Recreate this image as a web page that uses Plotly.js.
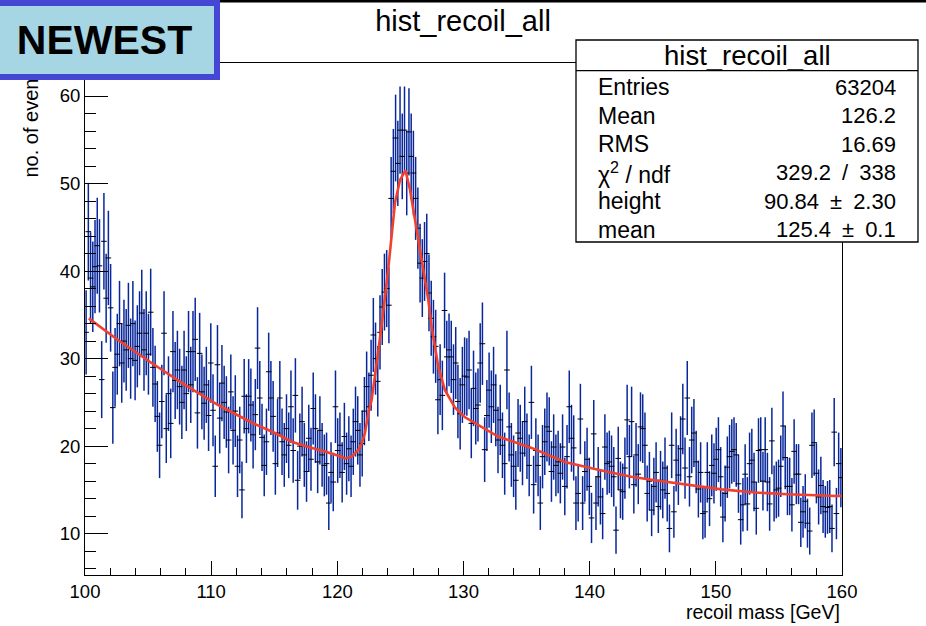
<!DOCTYPE html>
<html>
<head>
<meta charset="utf-8">
<script src="https://cdn.plot.ly/plotly-3.0.1.min.js"></script>
<style>
html,body{margin:0;padding:0;background:#fff;}
#chart{width:926px;height:626px;}
</style>
</head>
<body>
<div id="chart"></div>
<script>
// ---- histogram definition ----
const nBins = 340;
const massLow = 100;
const massHigh = 160;

// bin contents, 100 -> 115 GeV
const counts100to115 = [
 33.0, 44.5, 39.2, 38.2, 40.5, 42.9, 40.6, 27.6, 43.4, 36.9,
 41.5, 35.8, 24.4, 29.0, 30.5, 34.0, 29.5, 32.0, 31.0, 33.8,
 30.0, 34.0, 29.8, 31.4, 32.9, 35.2, 31.0, 32.9, 30.5, 35.3,
 29.0, 27.1, 23.4, 20.1, 25.1, 32.9, 22.0, 26.0, 22.6, 30.8,
 27.5, 28.7, 26.8, 25.0, 28.7, 26.0, 30.8, 27.0, 30.8, 32.2,
 23.8, 30.6, 26.2, 24.9, 27.0, 23.5, 29.5, 24.1, 17.7, 29.3,
 23.2, 27.2, 25.0, 23.9, 20.7, 26.2, 21.8, 24.0, 17.7, 20.7,
 15.0, 25.7, 22.0, 25.7, 24.7, 21.3, 23.6, 31.2, 25.5, 21.0,
 17.8, 20.5, 28.5, 25.5, 23.4
];
// 115 -> 130 GeV (peak region)
const counts115to130 = [
 18.0, 21.5, 25.5, 20.5, 19.0, 22.0, 20.1, 24.5, 19.5, 25.8,
 16.1, 20.0, 22.8, 19.0, 17.1, 20.9, 18.5, 24.3, 22.0, 18.2,
 21.8, 19.0, 17.8, 18.0, 13.5, 17.0, 15.9, 24.5, 19.5, 20.1,
 17.0, 21.1, 18.0, 19.7, 17.7, 20.5, 22.8, 21.8, 19.0, 20.3,
 24.0, 26.8, 24.5, 28.1, 32.7, 30.0, 27.4, 33.0, 35.9, 37.6,
 38.0, 36.1, 48.3, 51.4, 55.2, 52.3, 56.1, 53.1, 56.1, 51.2,
 55.9, 53.1, 51.2, 48.3, 44.9, 40.9, 39.2, 41.1, 42.0, 37.5,
 34.6, 32.5, 31.4, 25.3, 27.6, 25.8, 35.5, 30.2, 31.0, 30.2,
 27.6, 29.5, 25.1, 23.7, 27.0, 28.0
];
// 130 -> 145 GeV
const counts130to145 = [
 27.9, 28.7, 22.6, 26.6, 24.3, 24.7, 29.5, 31.7, 19.6, 23.5,
 26.4, 24.5, 27.0, 24.1, 20.7, 23.0, 20.1, 18.0, 28.7, 22.2,
 19.0, 17.7, 16.1, 21.5, 20.9, 19.2, 22.8, 20.0, 17.8, 25.0,
 15.6, 19.5, 17.8, 13.5, 18.8, 20.5, 22.2, 21.7, 17.1, 19.9,
 17.8, 18.2, 16.9, 19.9, 15.4, 18.8, 24.5, 20.9, 19.8, 13.5,
 14.6, 23.1, 13.5, 17.1, 18.5, 15.4, 11.8, 21.4, 13.5, 16.5,
 14.2, 12.3, 19.9, 18.0, 18.2, 17.7, 16.5, 10.4, 18.6, 15.0,
 14.8, 17.5, 23.0, 18.8, 22.8, 15.6, 19.0, 16.8, 22.2, 22.0,
 20.1, 14.6, 16.0, 12.7, 15.4, 17.0
];
// 145 -> 160 GeV
const counts145to160 = [
 13.1, 16.1, 15.0, 17.5, 14.6, 10.6, 20.1, 12.5, 18.4, 16.7,
 19.7, 23.1, 17.5, 25.5, 16.5, 20.7, 21.5, 18.2, 15.1, 17.0,
 12.3, 12.5, 17.0, 14.0, 17.8, 16.9, 18.5, 19.6, 16.5, 11.9,
 14.6, 17.6, 18.8, 19.4, 19.6, 19.0, 15.7, 11.6, 13.3, 16.8,
 13.4, 18.0, 18.4, 15.9, 12.9, 19.5, 19.6, 16.0, 19.6, 15.9,
 13.4, 20.6, 14.6, 15.0, 15.2, 17.7, 22.3, 18.7, 15.4, 15.4,
 13.3, 19.4, 16.8, 16.8, 11.3, 12.5, 13.7, 11.2, 10.3, 20.1,
 20.4, 16.9, 14.2, 15.5, 13.1, 12.5, 13.0, 13.1, 10.6, 21.6,
 12.3, 18.0, 16.4
];

// fit curve
const fitMass = [100.3, 102.64, 105.28, 107.92, 110.56, 113.2, 115.06, 116.38, 117.7, 119.02,
 120.34, 120.6, 121.14, 121.66, 121.93, 122.19, 122.45, 122.72, 122.98, 123.25,
 123.51, 124.04, 124.3, 124.57, 124.97, 125.4, 125.76, 126.02, 126.42, 126.81,
 127.21, 127.48, 128.0, 128.53, 129.33, 130.12, 132.75, 135.4, 138.03, 140.67,
 143.3, 145.17, 147.8, 150.45, 153.1, 155.7, 159.55, 160.0];
const fitValue = [34.6, 32.1, 29.5, 27.0, 24.7, 22.7, 21.5, 20.5, 19.9, 19.4,
 18.8, 18.6, 18.8, 19.56, 20.3, 21.5, 23.7, 25.3, 28.0, 30.8,
 33.8, 40.3, 44.2, 47.8, 50.4, 51.5, 49.3, 47.0, 43.9, 40.5,
 36.7, 33.6, 29.1, 26.4, 24.4, 23.3, 21.1, 19.8, 18.2, 17.3,
 16.5, 16.1, 15.6, 15.06, 14.7, 14.5, 14.3, 14.3];

// stats box text
const statsTitle = 'hist_recoil_all';
const statNames = ['Entries', 'Mean', 'RMS', '\u03c7<sup>2</sup> / ndf', 'height', 'mean'];
const statValues = ['63204', '126.2', '16.69', '329.2\u2002/\u2002338', '90.84\u2002\u00b1\u20022.30', '125.4\u2002\u00b1\u20020.1'];

// ---- build ----
const counts = counts100to115.concat(counts115to130, counts130to145, counts145to160);
const binW = (massHigh - massLow) / nBins;
const centers = counts.map((_, i) => massLow + (i + 0.5) * binW);
// weighted-histogram errors (signal events carry smaller weights)
function binError(x, y) {
  if (x > 122 && x < 129.5 && y > 20) return Math.sqrt(0.7 * 20 + 0.3 * (y - 20));
  return Math.sqrt(0.7 * y);
}
const errs = counts.map((y, i) => binError(centers[i], y));

// pixel helpers for decorations
const L = 85, R = 842, T = 63, B = 575;
const px = v => (v - L) / (R - L);
const py = v => (B - v) / (B - T);

const FONT = 'Liberation Sans, Arial, Helvetica, sans-serif';

const traces = [
  {
    x: centers, y: counts, type: 'scatter', mode: 'markers',
    marker: {symbol: 'line-ew', size: 4, color: 'black', line: {color: 'black', width: 1}},
    error_y: {type: 'data', array: errs, visible: true, color: '#08279a', thickness: 1.5, width: 0},
    hoverinfo: 'skip', cliponaxis: true
  },
  {
    x: fitMass, y: fitValue, type: 'scatter', mode: 'lines',
    line: {color: '#f2402f', width: 2.6}, hoverinfo: 'skip'
  }
];

const annotations = [];
// y-axis title (top-aligned, ROOT style)
annotations.push({text: 'no. of events', textangle: -90, xref: 'paper', yref: 'paper',
  x: px(30), y: py(180), xanchor: 'center', yanchor: 'bottom', showarrow: false,
  font: {family: FONT, size: 20, color: 'black'}});
// x-axis title (right-aligned)
annotations.push({text: 'recoil mass [GeV]', xref: 'paper', yref: 'paper',
  x: 1, y: py(612), xanchor: 'right', yanchor: 'middle', showarrow: false,
  font: {family: FONT, size: 19.5, color: 'black'}});
// stats box header
annotations.push({text: statsTitle, xref: 'paper', yref: 'paper', x: px(747), y: py(55),
  xanchor: 'center', yanchor: 'middle', showarrow: false, font: {family: FONT, size: 27.5, color: 'black'}});
statNames.forEach((n, i) => {
  const yy = 87 + i * 28.5;
  annotations.push({text: n, xref: 'paper', yref: 'paper', x: px(596), y: py(yy),
    xanchor: 'left', yanchor: 'middle', showarrow: false, font: {family: FONT, size: 23, color: 'black'}});
  annotations.push({text: statValues[i], xref: 'paper', yref: 'paper', x: px(898), y: py(yy),
    xanchor: 'right', yanchor: 'middle', showarrow: false, font: {family: FONT, size: 22, color: 'black'}});
});
// NEWEST badge (drawn last so it covers the y title)
annotations.push({text: 'NEWEST', xref: 'paper', yref: 'paper', x: px(220), y: py(0),
  xanchor: 'right', yanchor: 'top', showarrow: false, width: 219, height: 68,
  bgcolor: '#a6d5e4', bordercolor: '#4547d4', borderwidth: 6, borderpad: 0,
  font: {family: FONT, size: 41, color: 'black', weight: 'bold'}});

const shapes = [
  // canvas top border line
  {type: 'rect', xref: 'paper', yref: 'paper', x0: px(215), x1: px(926), y0: py(2.5), y1: py(0),
   fillcolor: 'black', line: {width: 0}, layer: 'above'},
  // stats box
  {type: 'rect', xref: 'paper', yref: 'paper', x0: px(576), x1: px(918), y0: py(242), y1: py(40),
   fillcolor: 'white', line: {color: 'black', width: 1.3}, layer: 'above'},
  {type: 'line', xref: 'paper', yref: 'paper', x0: px(576), x1: px(918), y0: py(70.7), y1: py(70.7),
   line: {color: 'black', width: 1.3}, layer: 'above'}
];

const layout = {
  width: 926, height: 626,
  margin: {l: L, r: 926 - R, t: T, b: 626 - B, pad: 0},
  paper_bgcolor: 'white', plot_bgcolor: 'white', showlegend: false,
  font: {family: FONT, color: 'black'},
  title: {text: 'hist_recoil_all', x: 0.5, xref: 'container', xanchor: 'center',
          y: 1 - 21 / 626, yref: 'container', yanchor: 'middle',
          font: {family: FONT, size: 29, color: 'black'}},
  xaxis: {range: [massLow, massHigh], tick0: 100, dtick: 10, ticks: 'inside', ticklen: 14, tickwidth: 1,
          tickcolor: 'black', minor: {dtick: 2, ticks: 'inside', ticklen: 7, tickwidth: 1, tickcolor: 'black', showgrid: false},
          showline: true, linecolor: 'black', linewidth: 1, mirror: true, showgrid: false, zeroline: false,
          tickfont: {family: FONT, size: 18.5, color: 'black'}},
  yaxis: {range: [5.28, 63.77], tick0: 0, dtick: 10, ticks: 'inside', ticklen: 23, tickwidth: 1,
          tickcolor: 'black', minor: {dtick: 2, ticks: 'inside', ticklen: 11, tickwidth: 1, tickcolor: 'black', showgrid: false},
          showline: true, linecolor: 'black', linewidth: 1, mirror: true, showgrid: false, zeroline: false,
          tickfont: {family: FONT, size: 18.5, color: 'black'}},
  shapes: shapes,
  annotations: annotations
};

Plotly.newPlot('chart', traces, layout, {displayModeBar: false, staticPlot: true});
</script>
</body>
</html>
